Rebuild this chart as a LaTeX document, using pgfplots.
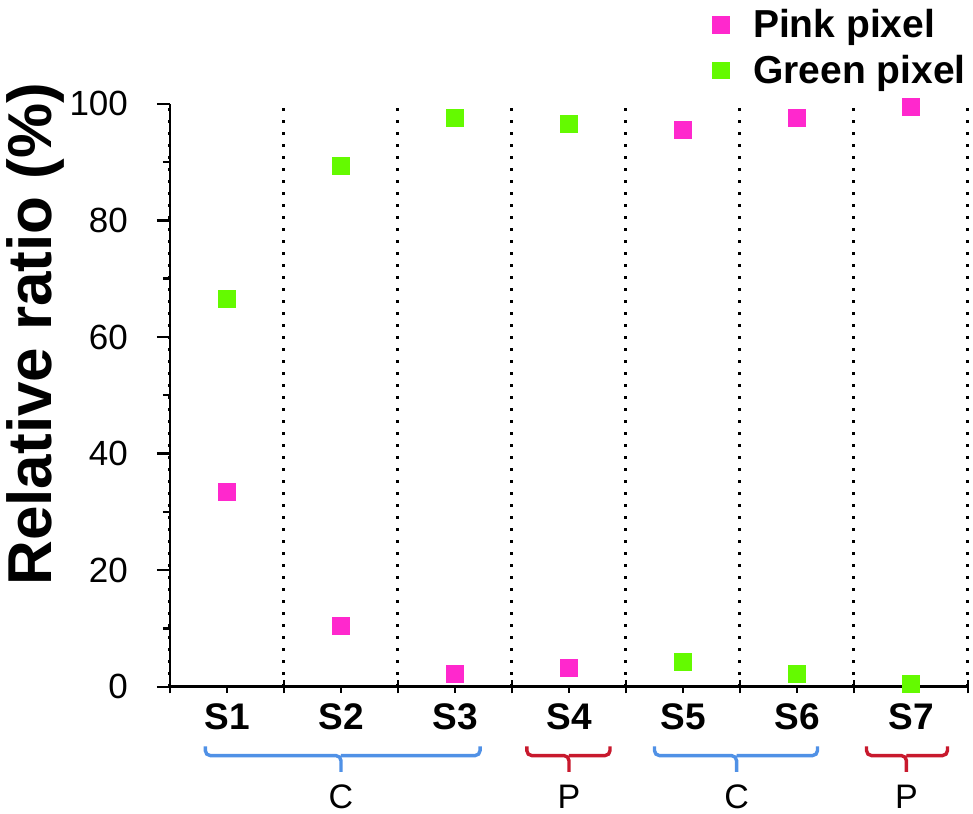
\documentclass[border=0pt]{standalone}
\usepackage{fontspec}
\setmainfont{Liberation Sans}
\usepackage{pgfplots}
\pgfplotsset{compat=1.18}

\definecolor{pinkpx}{RGB}{255,40,205}
\definecolor{greenpx}{RGB}{100,250,0}
\definecolor{bracecol}{RGB}{80,145,230}
\definecolor{redbrace}{RGB}{200,25,45}

\begin{document}
\begin{tikzpicture}
  \begin{axis}[
      scale only axis,
      width            = 399pt,
      height           = 291.5pt,
      xmin = 0.5, xmax = 7.5,
      ymin = 0,   ymax = 100,
      axis x line*     = bottom,
      axis y line*     = left,
      axis line style  = {line width=1.3pt, -},
      every tick/.style = {black, line width=1.2pt},
      major tick length = 6.5pt,
      minor tick length = 3.5pt,
      ytick align      = outside,
      xtick align      = center,
      % boundaries between samples: dotted grid
      xtick            = {0.5,1.5,...,7.5},
      xticklabels      = {},
      xmajorgrids      = true,
      % sample positions: short ticks with labels
      extra x ticks    = {1,...,7},
      extra x tick labels = {S1,S2,S3,S4,S5,S6,S7},
      extra x tick style = {major tick length=3pt, xtick align=outside, grid=none,
                            xticklabel style={font=\bfseries\fontsize{18.5}{20}\selectfont, yshift=-2pt}},
      ytick            = {0,20,...,100},
      minor y tick num = 1,
      yticklabel style = {font=\fontsize{17.5}{18}\selectfont, xshift=-11pt},
      /pgf/number format/assume math mode=true,
      ylabel           = {Relative ratio (\%)},
      ylabel style     = {font=\bfseries\fontsize{31}{32}\selectfont,
                          at={(rel axis cs:-0.168,0.605)}, anchor=center},
      grid style       = {black, line width=1.5pt, dash pattern=on 1.5pt off 4.5pt},
      legend style     = {draw=none, fill=none, at={(rel axis cs:1.01,1.176)},
                          anchor=north east,
                          font=\bfseries\fontsize{19.5}{21}\selectfont,
                          row sep=3pt,
                          /tikz/every odd column/.append style={column sep=10pt}},
      legend cell align = left,
      clip = false,
    ]

    % Pink pixel
    \addplot[only marks, mark=square*, mark size=4.2pt, draw=pinkpx, fill=pinkpx]
      coordinates {
        (1, 33.4) (2, 10.4) (3, 2.2) (4, 3.3) (5, 95.5) (6, 97.6) (7, 99.4)
      };
    \addlegendentry{Pink pixel}

    % Green pixel
    \addplot[only marks, mark=square*, mark size=4.2pt, draw=greenpx, fill=greenpx]
      coordinates {
        (1, 66.6) (2, 89.4) (3, 97.6) (4, 96.6) (5, 4.3) (6, 2.2) (7, 0.5)
      };
    \addlegendentry{Green pixel}

    % group braces
    \draw[bracecol, line width=1.7pt, rounded corners=2.5pt]
      (axis cs:0.81,-10.2) -- (axis cs:0.81,-11.8) -- (axis cs:2.0,-11.8) -- (axis cs:2.0,-14.6)
      (axis cs:2.0,-11.8) -- (axis cs:3.22,-11.8) -- (axis cs:3.22,-10.2);
    \draw[redbrace, line width=1.7pt, rounded corners=2.5pt]
      (axis cs:3.63,-10.2) -- (axis cs:3.63,-11.8) -- (axis cs:4.0,-11.8) -- (axis cs:4.0,-14.6)
      (axis cs:4.0,-11.8) -- (axis cs:4.36,-11.8) -- (axis cs:4.36,-10.2);
    \draw[bracecol, line width=1.7pt, rounded corners=2.5pt]
      (axis cs:4.75,-10.2) -- (axis cs:4.75,-11.8) -- (axis cs:5.47,-11.8) -- (axis cs:5.47,-14.6)
      (axis cs:5.47,-11.8) -- (axis cs:6.18,-11.8) -- (axis cs:6.18,-10.2);
    \draw[redbrace, line width=1.7pt, rounded corners=2.5pt]
      (axis cs:6.61,-10.2) -- (axis cs:6.61,-11.8) -- (axis cs:6.96,-11.8) -- (axis cs:6.96,-14.6)
      (axis cs:6.96,-11.8) -- (axis cs:7.32,-11.8) -- (axis cs:7.32,-10.2);

    \node[font=\fontsize{17}{18}\selectfont] at (axis cs:2.0,-18.9)  {C};
    \node[font=\fontsize{17}{18}\selectfont] at (axis cs:4.0,-18.9)  {P};
    \node[font=\fontsize{17}{18}\selectfont] at (axis cs:5.47,-18.9) {C};
    \node[font=\fontsize{17}{18}\selectfont] at (axis cs:6.96,-18.9) {P};

    \coordinate (bl) at (axis cs:-0.991,-21.75);
    \coordinate (tr) at (axis cs:7.544,117.8);
  \end{axis}
  \pgfresetboundingbox
  \useasboundingbox (bl) rectangle (tr);
\end{tikzpicture}
\end{document}
